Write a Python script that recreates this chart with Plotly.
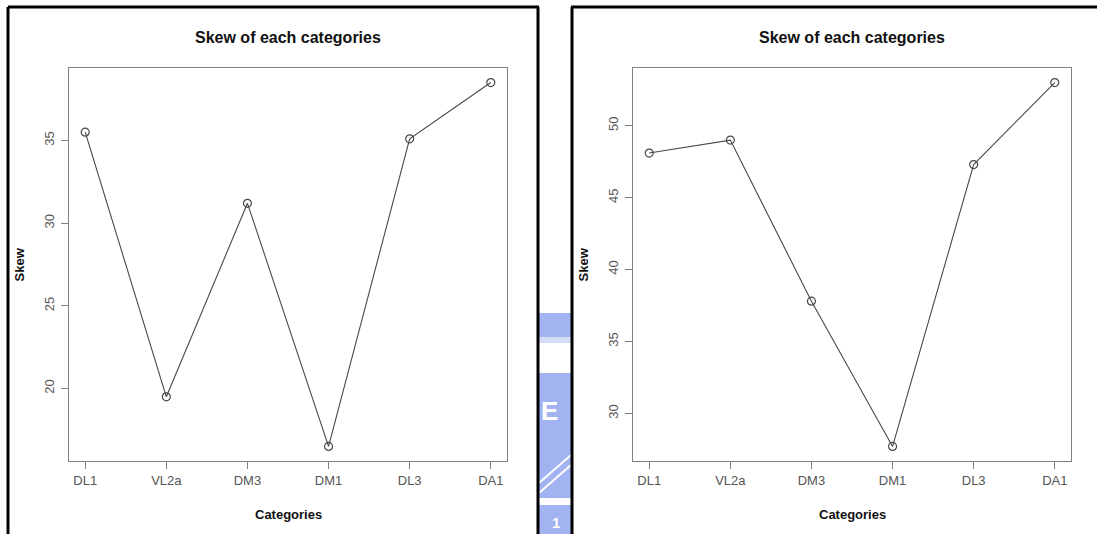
import plotly.graph_objects as go

# Category order along the x axis (shared by both panels)
categories = ["DL1", "VL2a", "DM3", "DM1", "DL3", "DA1"]

# Skew per category, left and right panels
skew_left = [35.5, 19.5, 31.2, 16.5, 35.1, 38.5]
skew_right = [48.1, 49.0, 37.8, 27.7, 47.3, 53.0]

y_ticks_left = [20, 25, 30, 35]
y_ticks_right = [30, 35, 40, 45, 50]

W, H = 1097, 534
FONT = "Liberation Sans, Arial, sans-serif"


def px_x(p):
    return p / W


def px_y(p):
    return 1 - p / H


def r_range(vals, pad=0.04):
    lo, hi = min(vals), max(vals)
    d = (hi - lo) * pad
    return [lo - d, hi + d]


xs = list(range(1, len(categories) + 1))

# Plot-area boxes in pixels: (left, right, top, bottom)
panels = [
    (69, 507, 68, 461, skew_left, y_ticks_left),
    (633, 1071, 68, 461, skew_right, y_ticks_right),
]

fig = go.Figure()
annotations = []

for i, (l, r, t, b, vals, yt) in enumerate(panels, start=1):
    xa = "x" if i == 1 else f"x{i}"
    ya = "y" if i == 1 else f"y{i}"
    fig.add_trace(go.Scatter(
        x=xs, y=vals, xaxis=xa, yaxis=ya,
        mode="lines+markers",
        line=dict(color="#484848", width=1.1),
        marker=dict(symbol="circle-open", size=8, color="#484848",
                    line=dict(width=1.2)),
        showlegend=False, hoverinfo="x+y",
    ))
    axis_common = dict(
        showgrid=False, zeroline=False, showline=True, mirror=True,
        linecolor="#808080", linewidth=1.2,
        ticks="outside", ticklen=7, tickcolor="#808080", tickwidth=1.2,
        tickfont=dict(family=FONT, size=13, color="#555555"),
    )
    fig.layout[f"xaxis{'' if i == 1 else i}"] = dict(
        axis_common,
        domain=[px_x(l), px_x(r)], anchor=ya,
        range=r_range(xs), tickmode="array", tickvals=xs, ticktext=categories,
    )
    fig.layout[f"yaxis{'' if i == 1 else i}"] = dict(
        axis_common,
        domain=[px_y(b), px_y(t)], anchor=xa,
        range=r_range(vals), tickmode="array", tickvals=yt,
        tickangle=-90, ticklabelstandoff=2,
    )
    cx = px_x((l + r) / 2)
    annotations.append(dict(
        text="<b>Skew of each categories</b>", x=cx, y=px_y(37),
        xref="paper", yref="paper", showarrow=False,
        font=dict(family=FONT, size=16, color="#111111"),
        xanchor="center", yanchor="middle",
    ))
    annotations.append(dict(
        text="<b>Categories</b>", x=cx, y=px_y(514),
        xref="paper", yref="paper", showarrow=False,
        font=dict(family=FONT, size=13, color="#111111"),
        xanchor="center", yanchor="middle",
    ))
    annotations.append(dict(
        text="<b>Skew</b>", x=px_x(l - 50), y=px_y((t + b) / 2),
        xref="paper", yref="paper", showarrow=False, textangle=-90,
        font=dict(family=FONT, size=13, color="#111111"),
        xanchor="center", yanchor="middle",
    ))

shapes = []
frame = dict(color="#000000", width=3)
# Outer frames around each panel
shapes += [
    dict(type="line", xref="paper", yref="paper", x0=px_x(8), x1=px_x(8),
         y0=px_y(7), y1=px_y(540), line=frame),
    dict(type="line", xref="paper", yref="paper", x0=px_x(8), x1=px_x(539),
         y0=px_y(7), y1=px_y(7), line=frame),
    dict(type="line", xref="paper", yref="paper", x0=px_x(538), x1=px_x(538),
         y0=px_y(7), y1=px_y(540), line=frame),
    dict(type="line", xref="paper", yref="paper", x0=px_x(572), x1=px_x(572),
         y0=px_y(7), y1=px_y(540), line=frame),
    dict(type="line", xref="paper", yref="paper", x0=px_x(571), x1=px_x(1100),
         y0=px_y(7), y1=px_y(7), line=frame),
]

# Emblem pieces showing in the gap between the two panels
blue = "#a2b3f2"
for y0, y1 in [(313, 337), (373, 498), (505, 540)]:
    shapes.append(dict(type="rect", xref="paper", yref="paper", layer="below",
                       x0=px_x(539), x1=px_x(571), y0=px_y(y1), y1=px_y(y0),
                       fillcolor=blue, line=dict(width=0)))
shapes.append(dict(type="rect", xref="paper", yref="paper", layer="below",
                   x0=px_x(539), x1=px_x(571), y0=px_y(343), y1=px_y(337),
                   fillcolor="#d6ddf7", line=dict(width=0)))
for off in (0, 10):
    shapes.append(dict(type="line", xref="paper", yref="paper", layer="below",
                       x0=px_x(539), x1=px_x(571), y0=px_y(493 - off),
                       y1=px_y(465 - off), line=dict(color="#ffffff", width=2)))
annotations.append(dict(
    text="<b>E</b>", x=px_x(549), y=px_y(411), xref="paper", yref="paper",
    showarrow=False, font=dict(family=FONT, size=26, color="#ffffff"),
    xanchor="center", yanchor="middle",
))
annotations.append(dict(
    text="<b>1</b>", x=px_x(556), y=px_y(522), xref="paper", yref="paper",
    showarrow=False, font=dict(family=FONT, size=15, color="#ffffff"),
    xanchor="center", yanchor="middle",
))

fig.update_layout(
    width=W, height=H, margin=dict(l=0, r=0, t=0, b=0),
    paper_bgcolor="#ffffff", plot_bgcolor="#ffffff",
    annotations=annotations, shapes=shapes,
)

fig.write_html("out.html")
